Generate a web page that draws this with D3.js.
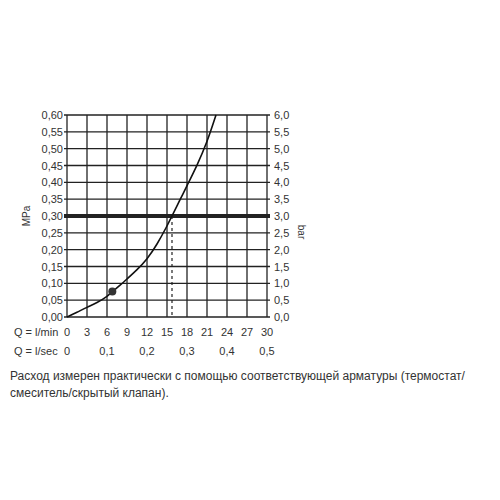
<!DOCTYPE html>
<html><head><meta charset="utf-8">
<script src="https://cdn.jsdelivr.net/npm/d3@7"></script>
<style>body{margin:0;background:#fff}text{font-family:"Liberation Sans",Arial,sans-serif;fill:#333}</style>
</head><body><div id="container"></div>
<script>
const minTicks = [0,3,6,9,12,15,18,21,24,27,30]
const secTicks = ['0','0,1','0,2','0,3','0,4','0,5']
const mpaTicks = [0,0.05,0.1,0.15,0.2,0.25,0.3,0.35,0.4,0.45,0.5,0.55,0.6]
const curveQ = [0,1.5,3,4.5,6,6.8,8,9,10.5,12,13.5,15,15.75,17,18,19.5,21,22.35]
const curveP = [0,0.014,0.029,0.042,0.06,0.076,0.095,0.113,0.14,0.171,0.215,0.27,0.3,0.35,0.39,0.45,0.518,0.6]
const dotQ = 6.8, dotP = 0.076
const workP = 0.30, workQ = 15.75

const x = d3.scaleLinear().domain([0,30]).range([67,267])
const y = d3.scaleLinear().domain([0,0.6]).range([317,115])
const fmt = v => v.toFixed(2).replace('.',',')
const fmtBar = v => (v*10).toFixed(1).replace('.',',')

const svg = d3.select('#container').append('svg').attr('width',500).attr('height',500)

svg.selectAll('.vg').data(minTicks).enter().append('line')
    .attr('x1',x).attr('x2',x).attr('y1',y(0)).attr('y2',y(0.6))
    .attr('stroke','#222').attr('stroke-width',1.3)
svg.selectAll('.hg').data(mpaTicks).enter().append('line')
    .attr('x1',x(0)-3).attr('x2',x(30)+3).attr('y1',y).attr('y2',y)
    .attr('stroke','#222').attr('stroke-width',1.3)

svg.selectAll('.ly').data(mpaTicks).enter().append('text')
    .attr('x',x(0)-4).attr('y',d=>y(d)+4).attr('text-anchor','end')
    .attr('font-size',11).text(fmt)
svg.selectAll('.ry').data(mpaTicks).enter().append('text')
    .attr('x',x(30)+7).attr('y',d=>y(d)+4)
    .attr('font-size',11).text(fmtBar)

svg.append('text').attr('transform','translate(30,216) rotate(-90)')
    .attr('text-anchor','middle').attr('font-size',10).text('MPa')
svg.append('text').attr('transform','translate(298,232) rotate(90)')
    .attr('text-anchor','middle').attr('font-size',10).text('bar')

svg.append('line').attr('x1',x(0)-3).attr('x2',x(30)+3).attr('y1',y(workP)).attr('y2',y(workP))
    .attr('stroke','#222').attr('stroke-width',4)
svg.append('line').attr('x1',x(workQ)).attr('x2',x(workQ)).attr('y1',y(workP)).attr('y2',y(0))
    .attr('stroke','#222').attr('stroke-width',1.2).attr('stroke-dasharray','3,3')

const pts = curveQ.map((q,i)=>[q,curveP[i]])
svg.append('path').datum(pts)
    .attr('d',d3.line().x(d=>x(d[0])).y(d=>y(d[1])).curve(d3.curveBasis))
    .attr('fill','none').attr('stroke','#111').attr('stroke-width',1.6)
svg.append('circle').attr('cx',x(dotQ)).attr('cy',y(dotP)).attr('r',4).attr('fill','#333')

svg.append('text').attr('x',14).attr('y',336).attr('font-size',11).text('Q = l/min')
svg.selectAll('.xm').data(minTicks).enter().append('text')
    .attr('x',x).attr('y',336).attr('text-anchor','middle').attr('font-size',11).text(d=>d)
svg.append('text').attr('x',14).attr('y',355).attr('font-size',11).text('Q = l/sec')
svg.selectAll('.xs').data(secTicks).enter().append('text')
    .attr('x',(d,i)=>x(i*6)).attr('y',355).attr('text-anchor','middle').attr('font-size',11).text(d=>d)

svg.append('text').attr('x',10).attr('y',380).attr('font-size',12).attr('fill','#111')
    .text('Расход измерен практически с помощью соответствующей арматуры (термостат/')
svg.append('text').attr('x',10).attr('y',397).attr('font-size',12).attr('fill','#111')
    .text('смеситель/скрытый клапан).')
</script></body></html>
